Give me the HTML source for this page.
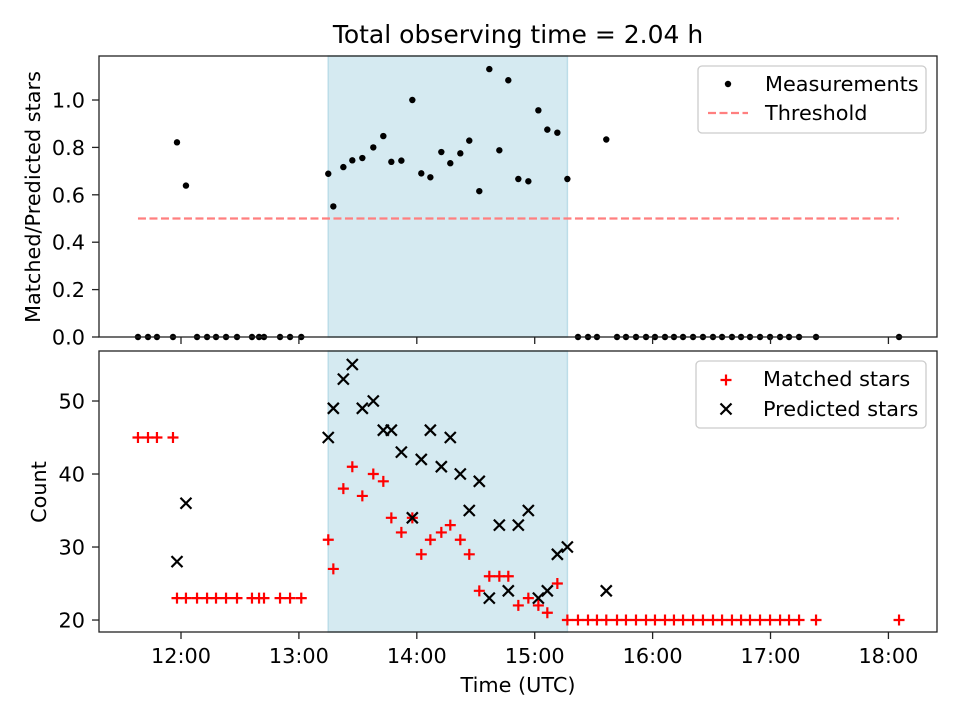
<!DOCTYPE html>
<html><head><meta charset="utf-8"><style>
body{margin:0;background:#fff;}
svg{display:block;font-family:"DejaVu Sans","Liberation Sans",sans-serif;}
</style></head><body>
<svg id="chart" width="960" height="720" viewBox="0 0 960 720"></svg>
<script>
const times = [11.635,11.720,11.796,11.932,11.966,12.042,12.136,12.221,12.297,12.382,12.475,12.602,12.662,12.704,12.840,12.925,13.020,
13.249,13.292,13.377,13.453,13.538,13.631,13.716,13.784,13.869,13.962,14.038,14.115,14.208,14.284,14.369,14.445,14.530,14.615,14.700,14.776,14.861,14.946,15.031,15.107,15.192,15.277,
15.367,15.452,15.528,15.607,15.698,15.774,15.859,15.944,16.020,16.105,16.181,16.258,16.343,16.427,16.512,16.589,16.673,16.750,16.826,16.911,16.996,17.081,17.157,17.242,17.386,18.090];
const matched = [45,45,45,45,23,23,23,23,23,23,23,23,23,23,23,23,23,
31,27,38,41,37,40,39,34,32,34,29,31,32,33,31,29,24,26,26,26,22,23,22,21,25,20,
20,20,20,20,20,20,20,20,20,20,20,20,20,20,20,20,20,20,20,20,20,20,20,20,20,20];
const predicted = [null,null,null,null,28,36,null,null,null,null,null,null,null,null,null,null,null,
45,49,53,55,49,50,46,46,43,34,42,46,41,45,40,35,39,23,33,24,33,35,23,24,29,30,
null,null,null,24,null,null,null,null,null,null,null,null,null,null,null,null,null,null,null,null,null,null,null,null,null,null];
const threshold = 0.5;
const spanStart = 13.249, spanEnd = 15.277;
const xTicks = [12,13,14,15,16,17,18];
const topTicks = [0,0.2,0.4,0.6,0.8,1.0];
const botTicks = [20,30,40,50];

const NS="http://www.w3.org/2000/svg";
const svg=document.getElementById('chart');
function mk(tag,attrs,parent){const e=document.createElementNS(NS,tag);for(const k in attrs)e.setAttribute(k,attrs[k]);(parent||svg).appendChild(e);return e;}
const L=99,R=937;
const xMin=11.3045,xMax=18.412;
const X=h=>L+(h-xMin)/(xMax-xMin)*(R-L);
const T1=56,B1=337,T2=351,B2=632;
const Ytop=v=>B1-(v-0)/(1.1857)*(B1-T1);
const Ybot=v=>B2-(v-18.36)/(56.85-18.36)*(B2-T2);
const FS=20.8;

for(const [t,b,nm] of [[T1,B1,'top-span'],[T2,B2,'bottom-span']]){
  const r=mk('rect',{x:X(spanStart),y:t,width:X(spanEnd)-X(spanStart),height:b-t,fill:'#d5eaf1',stroke:'#bcdde8','stroke-width':1.5});
  
  
}
const th=mk('line',{x1:X(times[0]),x2:X(times[times.length-1]),y1:Ytop(threshold),y2:Ytop(threshold),stroke:'#ff7f7f','stroke-width':2.2,'stroke-dasharray':'8,3.5'});


times.forEach((t,i)=>{
  const ratio = predicted[i]==null?0:matched[i]/predicted[i];
  const c=mk('circle',{cx:X(t),cy:Ytop(ratio),r:3.2,fill:'#000'});
  
  
});
times.forEach((t,i)=>{
  const x=X(t),y=Ybot(matched[i]);
  const p=mk('path',{d:`M${x-5.5},${y}H${x+5.5}M${x},${y-5.5}V${y+5.5}`,stroke:'#ff0000','stroke-width':2.2});
  
  
});
times.forEach((t,i)=>{
  if(predicted[i]==null)return;
  const x=X(t),y=Ybot(predicted[i]),s=5.5;
  const p=mk('path',{d:`M${x-s},${y-s}L${x+s},${y+s}M${x-s},${y+s}L${x+s},${y-s}`,stroke:'#000','stroke-width':2.2});
  
  
});
for(const [t,b,nm] of [[T1,B1,'top-axes-frame'],[T2,B2,'bottom-axes-frame']]){
  const r=mk('rect',{x:L,y:t,width:R-L,height:b-t,fill:'none',stroke:'#222','stroke-width':1.3});
  
  
}
xTicks.forEach(h=>{
  const x=X(h);
  mk('line',{x1:x,x2:x,y1:B1,y2:B1+7,stroke:'#222','stroke-width':1.3});
  mk('line',{x1:x,x2:x,y1:B2,y2:B2+7,stroke:'#222','stroke-width':1.3});
  const tx=mk('text',{x:x,y:663,'text-anchor':'middle','font-size':FS});
  tx.textContent=h+':00';
  
  
});
topTicks.forEach(v=>{
  const y=Ytop(v);
  mk('line',{x1:L-7,x2:L,y1:y,y2:y,stroke:'#222','stroke-width':1.3});
  const tx=mk('text',{x:L-14,y:y+7.5,'text-anchor':'end','font-size':FS});
  tx.textContent=v.toFixed(1);
  
  
});
botTicks.forEach(v=>{
  const y=Ybot(v);
  mk('line',{x1:L-7,x2:L,y1:y,y2:y,stroke:'#222','stroke-width':1.3});
  const tx=mk('text',{x:L-14,y:y+7.5,'text-anchor':'end','font-size':FS});
  tx.textContent=v;
  
  
});
</script>
<div style="position:absolute;left:0;top:0;width:960px;height:720px;pointer-events:none">
<svg width="960" height="720" style="font-family:'DejaVu Sans','Liberation Sans',sans-serif">
  <text x="518" y="43" text-anchor="middle" font-size="25">Total observing time = 2.04 h</text>
  <text x="518" y="692" text-anchor="middle" font-size="20.8">Time (UTC)</text>
  <text transform="translate(40,197) rotate(-90)" text-anchor="middle" font-size="20.8">Matched/Predicted stars</text>
  <text transform="translate(46,492) rotate(-90)" text-anchor="middle" font-size="20.8">Count</text>
  <g>
    <rect x="698" y="66" width="228" height="67" rx="4" fill="#fff" fill-opacity="0.8" stroke="#ccc" stroke-width="1.3"/>
    <circle cx="728" cy="84" r="3.2" fill="#000"/>
    <text x="765" y="91" font-size="20.8">Measurements</text>
    <line x1="708" x2="748" y1="113" y2="113" stroke="#ff7f7f" stroke-width="2.2" stroke-dasharray="8,3.5"/>
    <text x="765" y="120" font-size="20.8">Threshold</text>
  </g>
  <g>
    <rect x="696" y="361" width="230" height="67" rx="4" fill="#fff" fill-opacity="0.8" stroke="#ccc" stroke-width="1.3"/>
    <path d="M720.5,380H731.5M726,374.5V385.5" stroke="#f00" stroke-width="2.2"/>
    <text x="763" y="386" font-size="20.8">Matched stars</text>
    <path d="M720.5,403.5L731.5,414.5M720.5,414.5L731.5,403.5" stroke="#000" stroke-width="2.2"/>
    <text x="763" y="416" font-size="20.8">Predicted stars</text>
  </g>
</svg>
</div>
</body></html>
